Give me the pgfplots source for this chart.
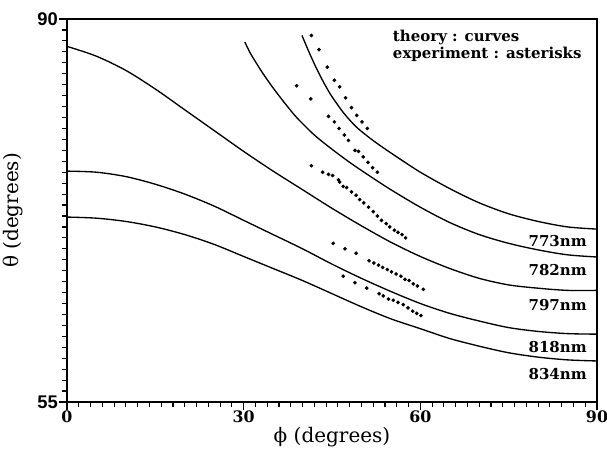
\documentclass[border=0pt]{standalone}
\usepackage{fontspec}
\setmainfont{DejaVu Serif}
\newfontfamily\tsans{Liberation Sans}
\usepackage{pgfplots}
\pgfplotsset{compat=1.18}
\begin{document}
\begin{tikzpicture}
\begin{axis}[
 at={(0pt,0pt)}, anchor=south west, scale only axis,
 width=318pt, height=229.8pt,
 xmin=0,xmax=90,ymin=55,ymax=90,
 xtick={0,30,60,90}, ytick={55,90},
 tick style={draw=none},
 clip=false,
 axis line style={line width=1.1pt},
 xticklabel style={font=\fontsize{9.5}{10}\selectfont\bfseries, yshift=-2pt},
 yticklabel style={font=\fontsize{11}{12}\selectfont\tsans\bfseries, xshift=-2pt},
 xticklabel={\pgfmathprintnumber[assume math mode=true]{\tick}},
 yticklabel={\pgfmathprintnumber[assume math mode=true]{\tick}},
 xlabel={ϕ (degrees)}, ylabel={θ (degrees)},
 x label style={at={(axis description cs:0.5,-0.0914)}, anchor=center, font=\fontsize{12}{14}\selectfont},
 y label style={at={(axis description cs:-0.102,0.5)}, anchor=center, font=\fontsize{12}{14}\selectfont},
]
% ticks
\pgfplotsinvokeforeach{2,4,...,88}{\draw[line width=0.7pt] (axis cs:#1,55) -- ++(0pt,-2.8pt);}
\pgfplotsinvokeforeach{0,30,60,90}{\draw[line width=0.8pt] (axis cs:#1,55) -- ++(0pt,-4.5pt);}
\pgfplotsinvokeforeach{56,57,...,89}{\draw[line width=0.7pt] (axis cs:0,#1) -- ++(-2.8pt,0pt);}
\pgfplotsinvokeforeach{55,90}{\draw[line width=0.8pt] (axis cs:0,#1) -- ++(-4.5pt,0pt);}
% theory curves
\addplot[smooth, line width=0.8pt] coordinates {
(39.9,88.5)(41,87.1)(42,85.9)(43,84.8)(44,83.8)(45,82.9)(47,81.4)(49,80.2)(51,79.3)(53,78.5)(56,77.4)(60,76.0)(65,74.5)(70,73.2)(75,72.2)(80,71.5)(85,71.0)(90,70.8)};
\addplot[smooth, line width=0.8pt] coordinates {
(30.2,87.9)(31,87.0)(32,86.1)(33.3,85.0)(35,83.7)(37,82.3)(39,81.0)(42,79.4)(45,78.1)(48,76.9)(51,75.8)(55,74.4)(60,72.8)(65,71.4)(70,70.3)(75,69.5)(80,68.9)(85,68.45)(90,68.25)};
\addplot[smooth, line width=0.8pt] coordinates {
(0,87.5)(5,86.6)(10,85.3)(15,83.6)(20,81.7)(25,79.8)(30,77.9)(35,76.1)(40,74.4)(45,72.7)(50,71.1)(55,69.6)(60,68.3)(65,67.2)(70,66.3)(75,65.7)(80,65.4)(85,65.2)(90,65.2)};
\addplot[smooth, line width=0.8pt] coordinates {
(0,76.1)(5,76.0)(10,75.6)(15,74.9)(20,74.0)(25,72.9)(30,71.6)(35,70.3)(40,69.0)(45,67.6)(50,66.3)(55,65.1)(60,64.0)(65,63.1)(70,62.4)(75,61.8)(80,61.45)(85,61.25)(90,61.2)};
\addplot[smooth, line width=0.8pt] coordinates {
(0,71.9)(5,71.8)(10,71.5)(15,71.0)(20,70.3)(25,69.4)(30,68.3)(35,67.2)(40,66.1)(45,64.9)(50,63.7)(55,62.6)(60,61.7)(65,60.8)(70,60.1)(75,59.5)(80,59.1)(85,58.85)(90,58.75)};
% experiment points
\addplot[only marks, mark=*, mark size=0.9pt] coordinates {
(41.5,88.5)(42.8,87.2)(44.2,85.6)(45.4,84.4)(46.3,83.8)(47.3,82.8)(48.3,81.9)(49.2,81.2)(50.1,80.6)(51.0,80.0)};
\addplot[only marks, mark=*, mark size=0.9pt] coordinates {
(39.0,83.9)(41.4,82.7)(44.4,81.1)(45.4,80.6)(46.2,80.0)(47.1,79.4)(47.8,78.9)(48.9,78.0)(49.5,77.9)(50.3,77.4)(51.1,76.9)(51.9,76.4)(52.7,76.0)};
\addplot[only marks, mark=*, mark size=0.9pt] coordinates {
(41.5,76.6)(43.4,76.0)(44.4,75.8)(45.1,75.7)(46.1,75.3)(46.3,75.1)(46.9,74.7)(47.5,74.6)(48.3,74.2)(49.1,73.9)(49.7,73.5)(50.4,73.2)(51.2,72.8)(52.0,72.4)(52.7,72.0)(53.4,71.6)(54.2,71.3)(54.8,71.0)(55.6,70.7)(56.2,70.5)(56.9,70.3)(57.5,70.0)};
\addplot[only marks, mark=*, mark size=0.9pt] coordinates {
(45.2,69.5)(47.2,69.0)(49.1,68.6)(51.3,67.9)(52.1,67.7)(52.9,67.5)(53.6,67.3)(54.4,67.1)(55.1,66.9)(55.9,66.7)(56.7,66.5)(57.4,66.2)(58.1,66.1)(58.8,65.8)(59.5,65.6)(60.5,65.3)};
\addplot[only marks, mark=*, mark size=0.9pt] coordinates {
(46.9,66.5)(48.9,65.9)(50.9,65.4)(53.0,64.9)(53.7,64.7)(54.6,64.4)(55.4,64.3)(56.2,64.1)(57.1,63.9)(57.9,63.6)(58.7,63.3)(59.4,63.1)(60.1,62.9)};
% labels
\node[anchor=east, font=\fontsize{9}{10}\selectfont\bfseries, inner sep=0pt] at (axis cs:88.3,69.7) {773nm};
\node[anchor=east, font=\fontsize{9}{10}\selectfont\bfseries, inner sep=0pt] at (axis cs:88.3,67.1) {782nm};
\node[anchor=east, font=\fontsize{9}{10}\selectfont\bfseries, inner sep=0pt] at (axis cs:88.3,63.9) {797nm};
\node[anchor=east, font=\fontsize{9}{10}\selectfont\bfseries, inner sep=0pt] at (axis cs:88.3,60.0) {818nm};
\node[anchor=east, font=\fontsize{9}{10}\selectfont\bfseries, inner sep=0pt] at (axis cs:88.3,57.55) {834nm};
\node[anchor=north west, align=left, font=\fontsize{9}{10}\selectfont\bfseries, inner sep=0pt] at (axis cs:55.3,89.0) {theory : curves\\experiment : asterisks};
\end{axis}
\pgfresetboundingbox
\path[use as bounding box] (-40.2pt,-27.6pt) rectangle (324pt,241.2pt);
\end{tikzpicture}
\end{document}
